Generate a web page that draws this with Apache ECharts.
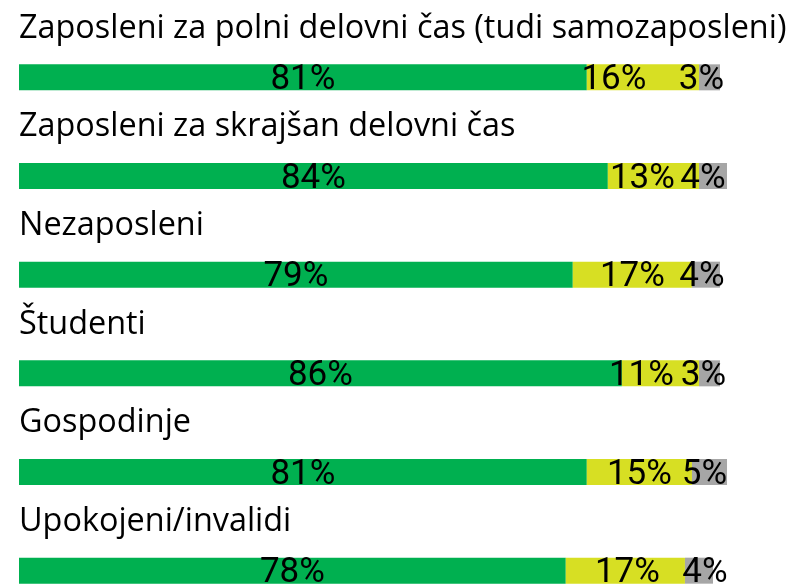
<!DOCTYPE html>
<html>
<head>
<meta charset="utf-8">
<script src="https://cdn.jsdelivr.net/npm/echarts@6/dist/echarts.min.js"></script>
<style>
  html, body { margin: 0; padding: 0; background: #fff; overflow: hidden; }
  #chart { width: 792px; height: 640px; }
</style>
</head>
<body>
<div id="chart"></div>
<script>
// skupine anketirancev
const categories = [
  'Zaposleni za polni delovni čas (tudi samozaposleni)',
  'Zaposleni za skrajšan delovni čas',
  'Nezaposleni',
  'Študenti',
  'Gospodinje',
  'Upokojeni/invalidi'
]
const greenValues = [81, 84, 79, 86, 81, 78]
const yellowValues = [16, 13, 17, 11, 15, 17]
const grayValues = [3, 4, 4, 3, 5, 4]

// ročni zamiki oznak, da se ne prekrivajo (kot v originalu)
const yellowNudge = [-29, -11, 0, -19, 0, 2]
const grayNudge = [-8, -10, -4, -6, -5, 6]

const labelStyle = {
  show: true,
  position: 'inside',
  formatter: '{c}%',
  color: '#000',
  fontFamily: 'Roboto, sans-serif',
  fontSize: 35
}

function part (name, data, color, nudge) {
  return {
    name: name,
    type: 'bar',
    stack: 'all',
    data: data.map((v, i) => ({
      value: v,
      label: { offset: [nudge ? nudge[i] : 0, 3] }
    })),
    barWidth: 26,
    clip: false,
    itemStyle: { color: color },
    label: labelStyle
  }
}

const chart = echarts.init(document.getElementById('chart'))
chart.setOption({
  animation: false,
  grid: {
    left: 19,
    width: 701,
    top: 28,
    height: 592,
    containLabel: false,
    outerBoundsMode: 'none'
  },
  xAxis: {
    type: 'value',
    min: 0,
    max: 100,
    show: false
  },
  yAxis: {
    type: 'category',
    inverse: true,
    data: categories,
    axisLine: { show: false },
    axisTick: { show: false },
    axisLabel: {
      inside: true,
      interval: 0,
      margin: 0,
      color: '#000',
      fontFamily: '"Open Sans", sans-serif',
      fontSize: 32.4,
      verticalAlign: 'bottom',
      lineHeight: 98
    }
  },
  series: [
    part('green', greenValues, '#00B050'),
    part('yellow', yellowValues, '#D7DF23', yellowNudge),
    part('gray', grayValues, '#A6A6A6', grayNudge)
  ]
})
</script>
</body>
</html>
